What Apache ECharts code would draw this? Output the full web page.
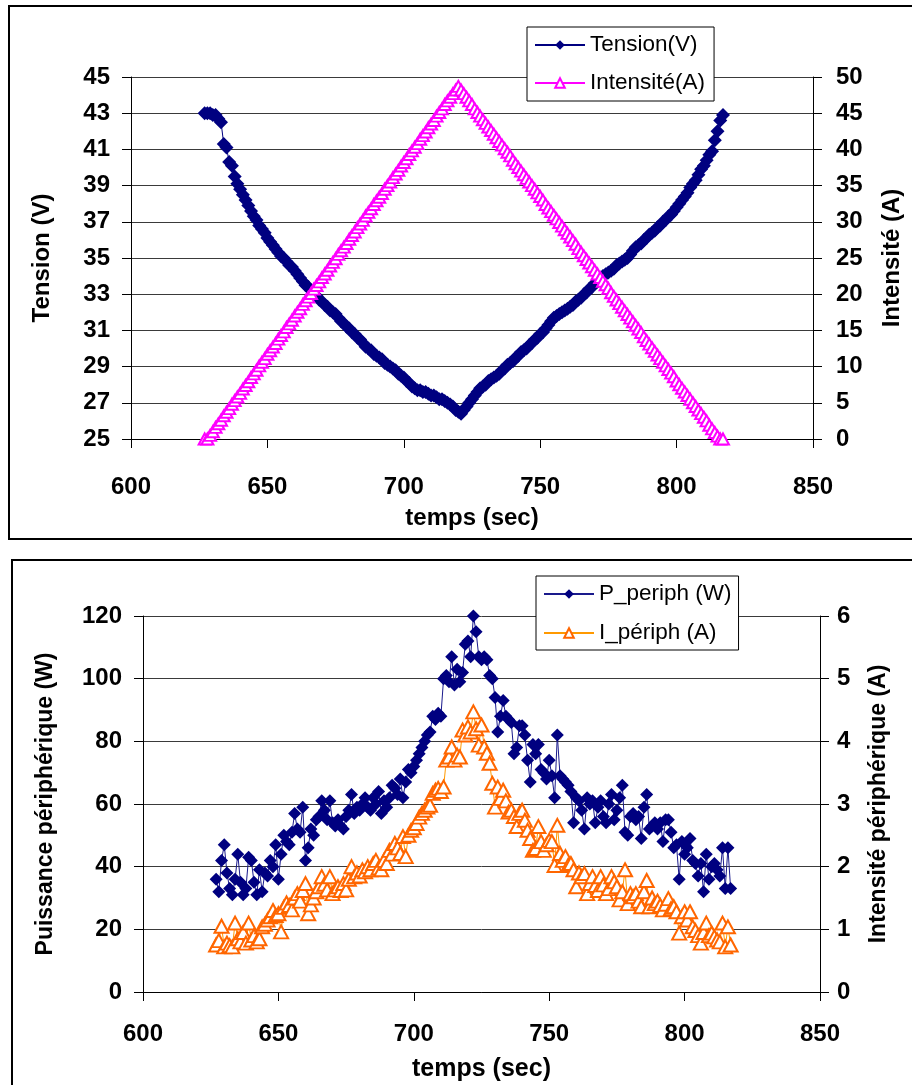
<!DOCTYPE html>
<html>
<head>
<meta charset="utf-8">
<script src="https://cdn.jsdelivr.net/npm/echarts@6/dist/echarts.min.js"></script>
<style>
  html, body { margin: 0; padding: 0; background: #fff; }
  #chart { width: 912px; height: 1085px; }
</style>
</head>
<body>
<div id="chart"></div>
<script>
// Time axis (seconds), one sample per second
const temps = [
  627, 628, 629, 630, 631, 632, 633, 634, 635, 636,
  637, 638, 639, 640, 641, 642, 643, 644, 645, 646,
  647, 648, 649, 650, 651, 652, 653, 654, 655, 656,
  657, 658, 659, 660, 661, 662, 663, 664, 665, 666,
  667, 668, 669, 670, 671, 672, 673, 674, 675, 676,
  677, 678, 679, 680, 681, 682, 683, 684, 685, 686,
  687, 688, 689, 690, 691, 692, 693, 694, 695, 696,
  697, 698, 699, 700, 701, 702, 703, 704, 705, 706,
  707, 708, 709, 710, 711, 712, 713, 714, 715, 716,
  717, 718, 719, 720, 721, 722, 723, 724, 725, 726,
  727, 728, 729, 730, 731, 732, 733, 734, 735, 736,
  737, 738, 739, 740, 741, 742, 743, 744, 745, 746,
  747, 748, 749, 750, 751, 752, 753, 754, 755, 756,
  757, 758, 759, 760, 761, 762, 763, 764, 765, 766,
  767, 768, 769, 770, 771, 772, 773, 774, 775, 776,
  777, 778, 779, 780, 781, 782, 783, 784, 785, 786,
  787, 788, 789, 790, 791, 792, 793, 794, 795, 796,
  797, 798, 799, 800, 801, 802, 803, 804, 805, 806,
  807, 808, 809, 810, 811, 812, 813, 814, 815, 816,
  817
];

// Upper chart: voltage (V) and current (A)
const tension = [
  43.0, 43.0, 43.0, 42.9, 42.9, 42.7, 42.5, 41.3, 41.1, 40.3,
  40.1, 39.5, 39.1, 38.8, 38.5, 38.2, 37.9, 37.6, 37.3, 37.1,
  36.8, 36.6, 36.4, 36.1, 35.9, 35.7, 35.5, 35.3, 35.1, 35.0,
  34.8, 34.6, 34.5, 34.3, 34.1, 33.9, 33.7, 33.5, 33.4, 33.2,
  33.0, 32.9, 32.7, 32.6, 32.4, 32.3, 32.1, 32.0, 31.9, 31.7,
  31.5, 31.4, 31.2, 31.1, 30.9, 30.8, 30.6, 30.5, 30.3, 30.1,
  30.0, 29.9, 29.7, 29.6, 29.5, 29.4, 29.2, 29.1, 29.0, 28.9,
  28.8, 28.6, 28.5, 28.4, 28.2, 28.1, 27.9, 27.8, 27.7, 27.7,
  27.6, 27.6, 27.5, 27.4, 27.4, 27.3, 27.2, 27.2, 27.1, 27.0,
  26.9, 26.8, 26.6, 26.5, 26.4, 26.6, 26.8, 27.0, 27.2, 27.4,
  27.6, 27.8, 27.9, 28.0, 28.2, 28.3, 28.4, 28.5, 28.6, 28.8,
  28.9, 29.1, 29.2, 29.3, 29.5, 29.6, 29.8, 29.9, 30.0, 30.2,
  30.3, 30.5, 30.6, 30.8, 30.9, 31.1, 31.3, 31.5, 31.7, 31.8,
  31.9, 32.0, 32.1, 32.2, 32.3, 32.4, 32.6, 32.7, 32.8, 33.0,
  33.1, 33.3, 33.4, 33.6, 33.7, 33.9, 34.0, 34.1, 34.2, 34.3,
  34.4, 34.6, 34.7, 34.8, 34.9, 35.0, 35.2, 35.4, 35.6, 35.7,
  35.8, 36.0, 36.1, 36.3, 36.4, 36.5, 36.7, 36.8, 37.0, 37.1,
  37.3, 37.4, 37.6, 37.8, 38.0, 38.2, 38.4, 38.6, 38.9, 39.1,
  39.3, 39.6, 39.9, 40.1, 40.4, 40.7, 40.9, 41.5, 42.0, 42.6,
  42.9
];

const intensite = [
  0, 0, 0.5, 1.0, 1.6, 2.1, 2.6, 3.2, 3.7, 4.2,
  4.8, 5.3, 5.8, 6.3, 6.9, 7.4, 7.9, 8.5, 9.0, 9.5,
  10.1, 10.6, 11.1, 11.7, 12.2, 12.7, 13.2, 13.8, 14.3, 14.8,
  15.4, 15.9, 16.4, 17.0, 17.5, 18.0, 18.6, 19.1, 19.6, 20.1,
  20.7, 21.2, 21.7, 22.3, 22.8, 23.3, 23.9, 24.4, 24.9, 25.5,
  26.0, 26.5, 27.0, 27.6, 28.1, 28.6, 29.2, 29.7, 30.2, 30.8,
  31.3, 31.8, 32.4, 32.9, 33.4, 33.9, 34.5, 35.0, 35.5, 36.1,
  36.6, 37.1, 37.7, 38.2, 38.7, 39.3, 39.8, 40.3, 40.8, 41.4,
  41.9, 42.4, 43.0, 43.5, 44.0, 44.6, 45.1, 45.6, 46.2, 46.7,
  47.2, 47.7, 48.2, 48.7, 48.2, 47.7, 47.2, 46.7, 46.2, 45.6,
  45.1, 44.6, 44.1, 43.6, 43.1, 42.6, 42.1, 41.6, 41.1, 40.6,
  40.1, 39.6, 39.1, 38.5, 38.0, 37.5, 37.0, 36.5, 36.0, 35.5,
  35.0, 34.5, 34.0, 33.5, 33.0, 32.4, 31.9, 31.4, 30.9, 30.4,
  29.9, 29.4, 28.9, 28.4, 27.9, 27.4, 26.9, 26.3, 25.8, 25.3,
  24.8, 24.3, 23.8, 23.3, 22.8, 22.3, 21.8, 21.3, 20.8, 20.2,
  19.7, 19.2, 18.7, 18.2, 17.7, 17.2, 16.7, 16.2, 15.7, 15.2,
  14.7, 14.1, 13.6, 13.1, 12.6, 12.1, 11.6, 11.1, 10.6, 10.1,
  9.6, 9.1, 8.6, 8.0, 7.5, 7.0, 6.5, 6.0, 5.5, 5.0,
  4.5, 4.0, 3.5, 3.0, 2.5, 1.9, 1.4, 0.9, 0.4, 0,
  0
];

// Lower chart: peripheral power (W) and peripheral current (A)
const puissancePeriph = [
  36, 32, 42, 47, 38, 33, 31, 36, 44, 35,
  31, 33, 43, 42, 35, 31, 39, 32, 38, 37,
  42, 40, 47, 36, 44, 50, 48, 47, 51, 57,
  52, 51, 59, 42, 46, 52, 50, 55, 56, 61,
  58, 55, 61, 54, 53, 55, 53, 52, 56, 58,
  63, 57, 59, 58, 60, 62, 59, 58, 62, 60,
  64, 57, 61, 59, 62, 66, 65, 63, 68, 62,
  67, 71, 70, 72, 74, 76, 78, 80, 82, 83,
  88, 87, 89, 88, 100, 101, 99, 107, 98, 103,
  99, 102, 111, 112, 107, 120, 115, 107, 106, 107,
  106, 101, 100, 94, 83, 88, 93, 88, 87, 86,
  76, 78, 85, 85, 82, 74, 67, 79, 76, 79,
  71, 70, 68, 74, 69, 62, 82, 69, 68, 67,
  66, 64, 54, 62, 61, 58, 52, 62, 60, 61,
  54, 59, 61, 56, 54, 60, 63, 55, 58, 62,
  66, 51, 50, 56, 57, 55, 56, 49, 59, 63,
  52, 53, 54, 52, 54, 48, 55, 55, 51, 46,
  47, 36, 48, 44, 46, 49, 42, 41, 37, 41,
  32, 44, 36, 40, 41, 39, 37, 46, 33, 46,
  33
];

const intensitePeriph = [
  0.75, 0.82, 1.05, 0.72, 0.78, 0.74, 0.72, 1.1, 0.85, 0.8,
  0.95, 0.78, 1.1, 0.83, 0.9, 0.8, 0.85, 1.04, 1.08, 1.15,
  1.2, 1.3, 1.22, 1.25, 0.96, 1.35, 1.42, 1.38, 1.31, 1.5,
  1.57, 1.45, 1.62, 1.73, 1.25, 1.39, 1.5, 1.6, 1.68, 1.84,
  1.72, 1.63, 1.84, 1.57, 1.63, 1.68, 1.62, 1.73, 1.63, 1.8,
  2.0, 1.84, 1.9, 1.85, 1.95, 1.92, 2.0, 1.95, 2.05, 2.1,
  1.98, 1.95, 2.1, 2.05, 2.26, 2.2, 2.37, 2.3, 2.21, 2.48,
  2.16, 2.5, 2.58, 2.62, 2.69, 2.79, 2.85, 2.9, 2.95, 2.98,
  3.17, 3.22, 3.25, 3.2, 3.27, 3.7, 3.75, 3.91, 3.7, 3.78,
  3.75, 4.18, 4.1, 4.23, 4.15, 4.47, 4.2, 3.94, 4.26, 3.91,
  3.81, 3.65, 3.33, 2.95, 3.27, 3.09, 3.22, 3.05, 2.87, 2.9,
  2.8, 2.64, 2.85, 2.9, 2.74, 2.58, 2.45, 2.26, 2.29, 2.64,
  2.4, 2.26, 2.35, 2.42, 2.4, 2.02, 2.66, 2.21, 2.1, 2.16,
  2.02, 2.05, 1.95, 1.68, 1.9, 1.84, 1.89, 1.57, 1.73, 1.84,
  1.7, 1.62, 1.84, 1.71, 1.57, 1.65, 1.84, 1.76, 1.68, 1.47,
  1.6, 1.95, 1.41, 1.57, 1.52, 1.57, 1.45, 1.36, 1.6, 1.78,
  1.36, 1.5, 1.41, 1.45, 1.38, 1.31, 1.4, 1.49, 1.33, 1.36,
  1.28, 0.94, 1.2, 1.28, 1.15, 1.28, 1.04, 0.98, 0.9, 0.78,
  0.95, 1.1, 0.9, 0.94, 0.88, 0.83, 0.8, 1.1, 0.72, 1.04,
  0.75
];

// Tick values of the voltage axis (odd volts)
const tensionTicks = [25, 27, 29, 31, 33, 35, 37, 39, 41, 43, 45];

const FONT = '"Liberation Sans", Arial, Helvetica, sans-serif';
const pairs = (xs, ys) => xs.map((x, i) => [x, ys[i]]);

const axisBlack = { lineStyle: { color: '#000', width: 1 } };
const gridLine = { show: true, lineStyle: { color: '#3a3a3a', width: 1 } };
const tickLabel = (margin) => ({ fontSize: 24, fontWeight: 'bold', color: '#000', fontFamily: FONT, margin: margin });
const titleStyle = (size) => ({ fontSize: size, fontWeight: 'bold', color: '#000', fontFamily: FONT });

const chart = echarts.init(document.getElementById('chart'), null, { renderer: 'canvas' });

chart.setOption({
  animation: false,
  backgroundColor: '#fff',
  textStyle: { fontFamily: FONT },
  graphic: [
    { type: 'rect', z: -10, shape: { x: 9, y: 6, width: 920, height: 533 },
      style: { fill: 'none', stroke: '#000', lineWidth: 2 } },
    { type: 'rect', z: -10, shape: { x: 12, y: 560, width: 920, height: 540 },
      style: { fill: 'none', stroke: '#000', lineWidth: 2 } }
  ],
  grid: [
    { left: 131, top: 77, width: 696, height: 362 },
    { left: 143, top: 616, width: 677, height: 376 }
  ],
  legend: [
    {
      data: ['Tension(V)', 'Intensité(A)'],
      orient: 'vertical', left: 527, top: 27,
      padding: [6, 9, 6, 7], itemWidth: 50, itemHeight: 12, itemGap: 14,
      backgroundColor: '#fff', borderColor: '#000', borderWidth: 1,
      textStyle: { fontSize: 22.5, color: '#000', fontFamily: FONT, lineHeight: 24 }
    },
    {
      data: ['P_periph (W)', 'I_périph (A)'],
      orient: 'vertical', left: 536, top: 576,
      padding: [6, 7, 5, 7], itemWidth: 50, itemHeight: 12, itemGap: 15,
      backgroundColor: '#fff', borderColor: '#000', borderWidth: 1,
      textStyle: { fontSize: 22.5, color: '#000', fontFamily: FONT, lineHeight: 24 }
    }
  ],
  xAxis: [
    {
      gridIndex: 0, type: 'value', min: 600, max: 850, interval: 50,
      axisLine: axisBlack, axisTick: { show: true, length: 9, lineStyle: { color: '#000' } },
      axisLabel: tickLabel(36), splitLine: { show: false },
      name: 'temps (sec)', nameLocation: 'middle', nameGap: 67, nameTextStyle: titleStyle(24)
    },
    {
      gridIndex: 1, type: 'value', min: 600, max: 850, interval: 50,
      axisLine: axisBlack, axisTick: { show: true, length: 9, lineStyle: { color: '#000' } },
      axisLabel: tickLabel(30), splitLine: { show: false },
      name: 'temps (sec)', nameLocation: 'middle', nameGap: 65, nameTextStyle: titleStyle(25)
    }
  ],
  yAxis: [
    {
      gridIndex: 0, type: 'value', position: 'left', min: 25, max: 45, interval: 1,
      axisLine: { show: true, lineStyle: { color: '#000' } },
      axisTick: { show: true, length: 9, lineStyle: { color: '#000' }, customValues: tensionTicks },
      axisLabel: Object.assign(tickLabel(21), { customValues: tensionTicks }),
      splitLine: { show: false },
      name: 'Tension (V)', nameLocation: 'middle', nameRotate: 90, nameGap: 77, nameTextStyle: titleStyle(24)
    },
    {
      gridIndex: 0, type: 'value', position: 'right', min: 0, max: 50, interval: 5,
      axisLine: { show: true, lineStyle: { color: '#000' } },
      axisTick: { show: true, length: 9, lineStyle: { color: '#000' } },
      axisLabel: tickLabel(23), splitLine: gridLine,
      name: 'Intensité (A)', nameLocation: 'middle', nameRotate: 90, nameGap: 67, nameTextStyle: titleStyle(24)
    },
    {
      gridIndex: 1, type: 'value', position: 'left', min: 0, max: 120, interval: 20,
      axisLine: { show: true, lineStyle: { color: '#000' } },
      axisTick: { show: true, length: 9, lineStyle: { color: '#000' } },
      axisLabel: tickLabel(21), splitLine: gridLine,
      name: 'Puissance périphérique (W)', nameLocation: 'middle', nameRotate: 90, nameGap: 86, nameTextStyle: titleStyle(23)
    },
    {
      gridIndex: 1, type: 'value', position: 'right', min: 0, max: 6, interval: 1,
      axisLine: { show: true, lineStyle: { color: '#000' } },
      axisTick: { show: true, length: 9, lineStyle: { color: '#000' } },
      axisLabel: tickLabel(17), splitLine: { show: false },
      name: 'Intensité périphérique (A)', nameLocation: 'middle', nameRotate: 90, nameGap: 47, nameTextStyle: titleStyle(23)
    }
  ],
  series: [
    {
      name: 'Tension(V)', type: 'line', xAxisIndex: 0, yAxisIndex: 0,
      data: pairs(temps, tension), showAllSymbol: true,
      symbol: 'diamond', symbolSize: 14,
      itemStyle: { color: '#000080' }, lineStyle: { color: '#000080', width: 1 },
      emphasis: { disabled: true }
    },
    {
      name: 'Intensité(A)', type: 'line', xAxisIndex: 0, yAxisIndex: 1,
      data: pairs(temps, intensite), showAllSymbol: true,
      symbol: 'triangle', symbolSize: [12, 11],
      itemStyle: { color: '#fff', borderColor: '#FF00FF', borderWidth: 2 },
      lineStyle: { color: '#FF00FF', width: 1 },
      emphasis: { disabled: true }
    },
    {
      name: 'P_periph (W)', type: 'line', xAxisIndex: 1, yAxisIndex: 2,
      data: pairs(temps, puissancePeriph), showAllSymbol: true,
      symbol: 'diamond', symbolSize: 13,
      itemStyle: { color: '#000080' }, lineStyle: { color: '#1a1a8c', width: 1 },
      emphasis: { disabled: true }
    },
    {
      name: 'I_périph (A)', type: 'line', xAxisIndex: 1, yAxisIndex: 3,
      data: pairs(temps, intensitePeriph), showAllSymbol: true,
      symbol: 'triangle', symbolSize: [14, 13],
      itemStyle: { color: '#fff', borderColor: '#FF6600', borderWidth: 2 },
      lineStyle: { color: '#FF9900', width: 1 },
      emphasis: { disabled: true }
    }
  ]
});
</script>
</body>
</html>
